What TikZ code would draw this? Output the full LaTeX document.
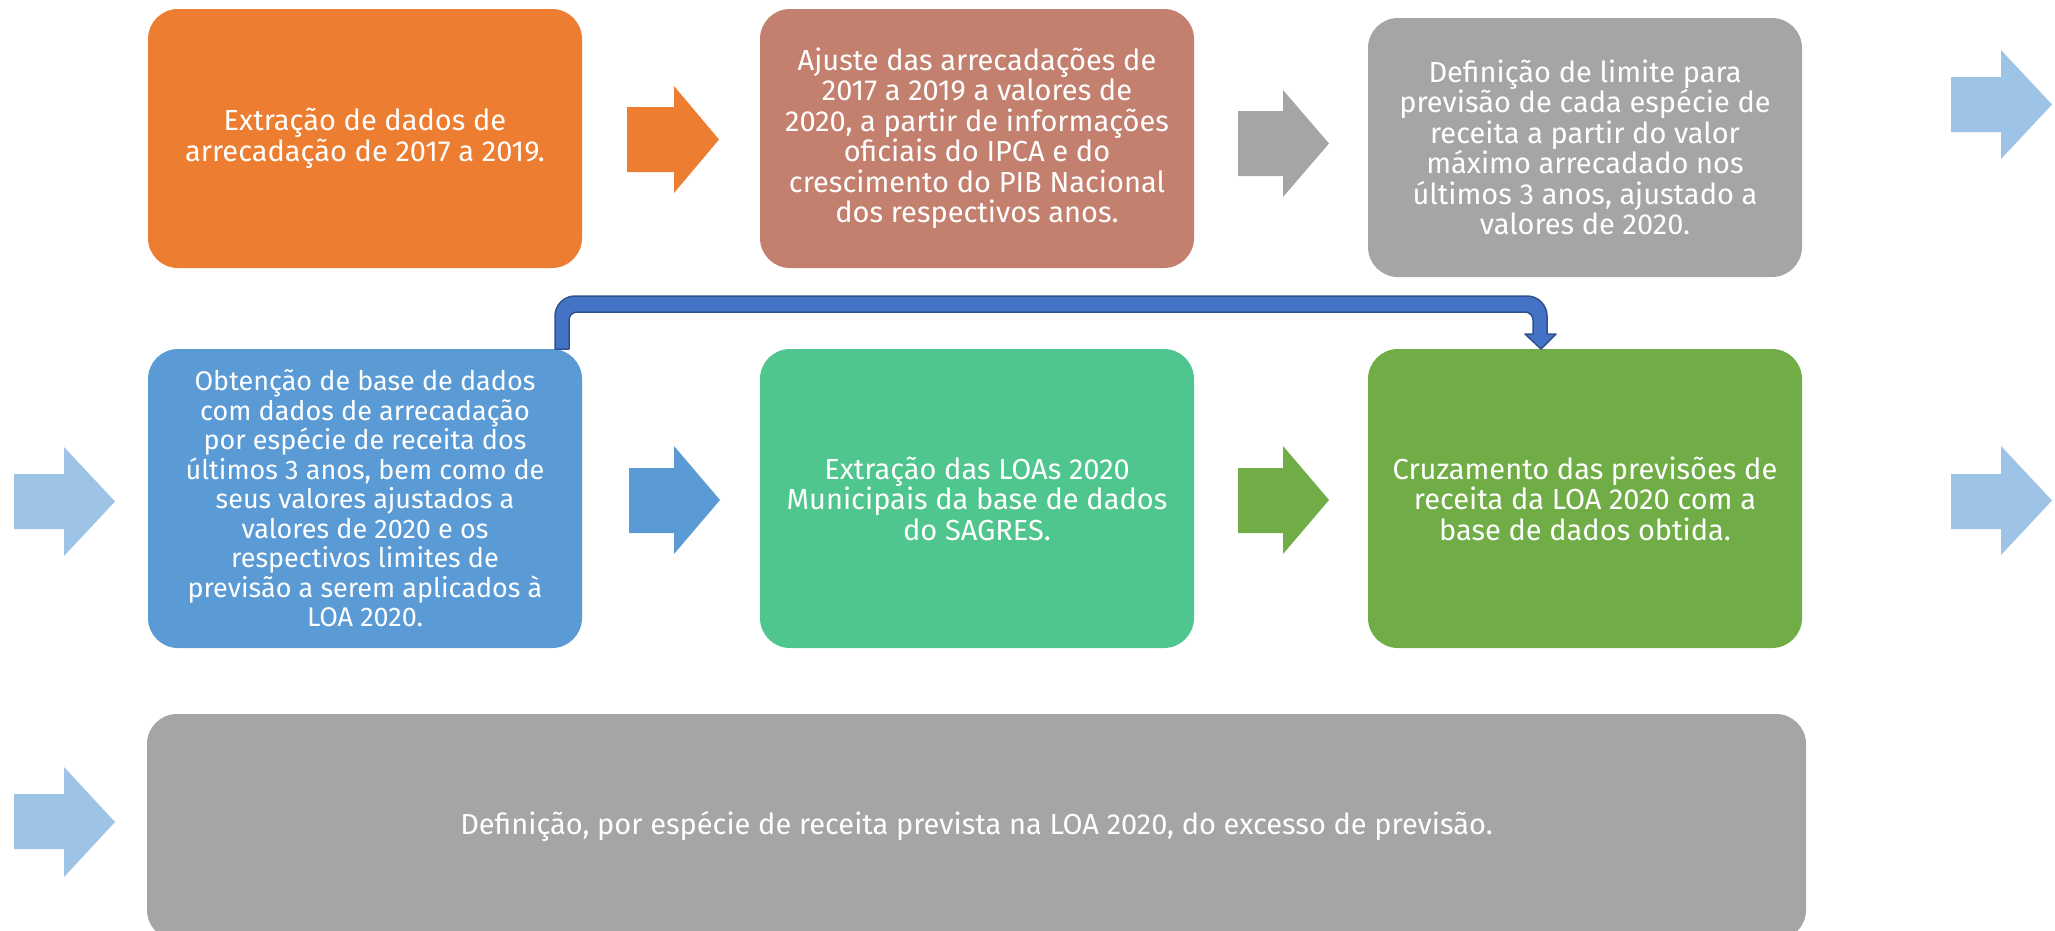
\documentclass[tikz,border=0pt]{standalone}
\usepackage{fontspec}
\setmainfont{Fira Sans}
\usetikzlibrary{calc}
\definecolor{cOrange}{HTML}{ED7D31}
\definecolor{cSalmon}{HTML}{C4806F}
\definecolor{cGray}{HTML}{A5A5A5}
\definecolor{cBlue}{HTML}{5B9BD5}
\definecolor{cTeal}{HTML}{4FC68D}
\definecolor{cGreen}{HTML}{70AD47}
\definecolor{cLight}{HTML}{9DC3E6}
\definecolor{cBent}{HTML}{4472C4}
\definecolor{cBentDark}{HTML}{2F528F}
\newcommand{\blockarrow}[8]{%
  % #1 colour, #2 x start, #3 x head base, #4 x tip, #5 y head top, #6 y shaft top, #7 y shaft bottom, #8 y head bottom
  \fill[#1] (#2,#6) -- (#3,#6) -- (#3,#5) -- (#4,{(#5+#8)/2}) -- (#3,#8) -- (#3,#7) -- (#2,#7) -- cycle;}
\tikzset{
  stepbox/.style={rounded corners=30pt, align=center, text=white, inner sep=0pt,
    font=\fontsize{29}{30.5}\selectfont},
  densebox/.style={stepbox, font=\fontsize{27}{29.5}\selectfont},
}
\begin{document}
\begin{tikzpicture}[x=1pt,y=-1pt]
\useasboundingbox (0,0) rectangle (2055,930);
\clip (0,0) rectangle (2055,930);
% boxes
\fill[cOrange, rounded corners=30pt] (148,9) rectangle (582,268);
\node[stepbox] (b1) at (365,138.5) {Extração de dados de\\arrecadação de 2017 a 2019.};
\fill[cSalmon, rounded corners=30pt] (760,9) rectangle (1194,268);
\node[stepbox] (b2) at (977,138.5) {Ajuste das arrecadações de\\2017 a 2019 a valores de\\2020, a partir de informações\\oficiais do IPCA e do\\crescimento do PIB Nacional\\dos respectivos anos.};
\fill[cGray, rounded corners=30pt] (1368,18) rectangle (1802,277);
\node[stepbox] (b3) at (1585,147.5) {Definição de limite para\\previsão de cada espécie de\\receita a partir do valor\\máximo arrecadado nos\\últimos 3 anos, ajustado a\\valores de 2020.};
\fill[cBlue, rounded corners=30pt] (148,349) rectangle (582,648);
\node[densebox] (b4) at (365,498.5) {Obtenção de base de dados\\com dados de arrecadação\\por espécie de receita dos\\últimos 3 anos, bem como de\\seus valores ajustados a\\valores de 2020 e os\\respectivos limites de\\previsão a serem aplicados à\\LOA 2020.};
\fill[cTeal, rounded corners=30pt] (760,349) rectangle (1194,648);
\node[stepbox] (b5) at (977,498.5) {Extração das LOAs 2020\\Municipais da base de dados\\do SAGRES.};
\fill[cGreen, rounded corners=30pt] (1368,349) rectangle (1802,648);
\node[stepbox] (b6) at (1585,498.5) {Cruzamento das previsões de\\receita da LOA 2020 com a\\base de dados obtida.};
\fill[cGray, rounded corners=30pt] (147,714) rectangle (1806,940);
\node[stepbox] (b7) at (976.5,826) {Definição, por espécie de receita prevista na LOA 2020, do excesso de previsão.};
% anchor points of the bent connector on the boxes
\coordinate (b4top) at (562,349);
\coordinate (b6top) at (1541,349);
% block arrows
\blockarrow{cOrange}{627}{674}{719}{86}{107}{172}{193}
\blockarrow{cGray}{1238}{1283}{1329}{90}{111}{176}{197}
\blockarrow{cBlue}{629}{674}{720}{446}{468}{533}{554}
\blockarrow{cGreen}{1238}{1283}{1329}{446}{468}{533}{554}
\blockarrow{cLight}{1951}{2001}{2052}{50}{77}{132}{159}
\blockarrow{cLight}{1951}{2001}{2052}{446}{474}{529}{555}
\blockarrow{cLight}{14}{64}{115}{447}{474}{529}{556}
\blockarrow{cLight}{14}{64}{115}{767}{794}{849}{877}
% bent connector from b4 to b6
\filldraw[fill=cBent, draw=cBentDark, line width=1.5pt, line join=round]
  ($(b4top)+(-7,0)$) [rounded corners=20pt] -- ($(b4top)+(-7,-53)$) -- ($(b6top)+(6,-53)$) [sharp corners]
  -- ($(b6top)+(6,-15)$) -- ($(b6top)+(15,-15)$) -- (b6top) -- ($(b6top)+(-16,-15)$) -- ($(b6top)+(-8,-15)$)
  [rounded corners=8pt] -- ($(b6top)+(-8,-37)$) -- ($(b4top)+(7,-37)$) [sharp corners] -- ($(b4top)+(7,0)$) -- cycle;
\end{tikzpicture}
\end{document}
